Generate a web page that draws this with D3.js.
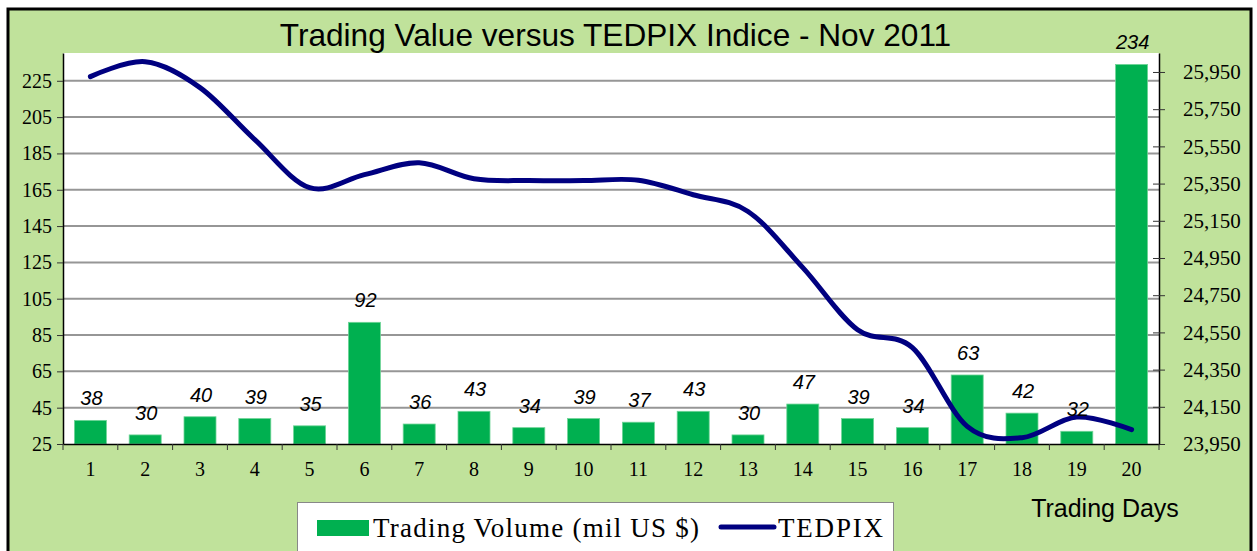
<!DOCTYPE html>
<html>
<head>
<meta charset="utf-8">
<script src="https://cdn.jsdelivr.net/npm/d3@7"></script>
<style>
  html, body { margin: 0; padding: 0; background: #ffffff; }
  svg { display: block; }
</style>
</head>
<body>
<svg id="chart" width="1257" height="551"></svg>
<script>
// ---------------- data ----------------
const days = ["1","2","3","4","5","6","7","8","9","10","11","12","13","14","15","16","17","18","19","20"];
const tradingVolume = [38, 30, 40, 39, 35, 92, 36, 43, 34, 39, 37, 43, 30, 47, 39, 34, 63, 42, 32, 234];
const tedpix = [25925, 26005, 25866, 25586, 25328, 25398, 25462, 25376, 25366, 25366,
                25368, 25290, 25200, 24898, 24564, 24468, 24045, 23984, 24095, 24027];
const leftTicks = [25, 45, 65, 85, 105, 125, 145, 165, 185, 205, 225];
const rightTicks = [23950, 24150, 24350, 24550, 24750, 24950, 25150, 25350, 25550, 25750, 25950];
const titleText = "Trading Value versus TEDPIX Indice - Nov 2011";
const xTitle = "Trading Days";
const seriesNames = ["Trading Volume (mil US $)", "TEDPIX"];

// ---------------- style ----------------
const bgGreen = "#c0e29b";
const barColor = "#00b050";
const lineColor = "#000080";
const sans = "'Liberation Sans', Arial, sans-serif";
const serif = "'Liberation Serif', 'Times New Roman', serif";

const plot = { left: 63, right: 1159, top: 53, bottom: 444 };

const svg = d3.select("#chart");

// frame
svg.append("rect").attr("x", 8).attr("y", 9).attr("width", 1243).attr("height", 560)
  .attr("fill", bgGreen).attr("stroke", "#000").attr("stroke-width", 3);

// plot background
svg.append("rect").attr("x", plot.left).attr("y", plot.top)
  .attr("width", plot.right - plot.left).attr("height", plot.bottom - plot.top)
  .attr("fill", "#ffffff");

// scales
const x = d3.scaleBand().domain(days).range([plot.left, plot.right])
  .paddingInner(0.416).paddingOuter(0.208);
const yL = d3.scaleLinear().domain([25, 240.3]).range([plot.bottom, plot.top]);
const yR = d3.scaleLinear().domain([23950, 26052]).range([plot.bottom, plot.top]);

// gridlines
svg.append("g").selectAll("line").data(leftTicks.filter(d => d > 25)).join("line")
  .attr("x1", plot.left).attr("x2", plot.right)
  .attr("y1", d => yL(d)).attr("y2", d => yL(d))
  .attr("stroke", "#969696").attr("stroke-width", 2);

// bars
svg.append("g").selectAll("rect").data(tradingVolume).join("rect")
  .attr("x", (d, i) => x(days[i]))
  .attr("y", d => yL(d))
  .attr("width", x.bandwidth())
  .attr("height", d => yL(25) - yL(d))
  .attr("fill", barColor)
  .attr("stroke", "#6fd497").attr("stroke-width", 0.8);

// line
const line = d3.line()
  .x((d, i) => x(days[i]) + x.bandwidth() / 2)
  .y(d => yR(d))
  .curve(d3.curveCardinal.tension(0));
svg.append("path").datum(tedpix).attr("d", line)
  .attr("fill", "none").attr("stroke", lineColor).attr("stroke-width", 5)
  .attr("stroke-linecap", "round").attr("stroke-linejoin", "round");

// data labels
svg.append("g").selectAll("text").data(tradingVolume).join("text")
  .attr("x", (d, i) => x(days[i]) + x.bandwidth() / 2 + 1)
  .attr("y", d => yL(d) - 15)
  .attr("text-anchor", "middle")
  .attr("font-family", sans).attr("font-style", "italic").attr("font-size", 20)
  .attr("fill", "#000")
  .text(d => d);

// left axis
const axL = svg.append("g").attr("transform", `translate(${plot.left},0)`)
  .call(d3.axisLeft(yL).tickValues(leftTicks).tickSizeInner(6).tickSizeOuter(0).tickPadding(5));
axL.select(".domain").attr("stroke", "#000").attr("stroke-width", 1.5);
axL.selectAll(".tick line").attr("stroke", "#333");
axL.selectAll("text").attr("font-family", serif).attr("font-size", 20).attr("fill", "#000");

// right axis
const axR = svg.append("g").attr("transform", `translate(${plot.right},0)`)
  .call(d3.axisRight(yR).tickValues(rightTicks).tickFormat(d3.format(","))
    .tickSizeInner(6).tickSizeOuter(0).tickPadding(18));
axR.select(".domain").attr("stroke", "#000").attr("stroke-width", 1.5);
axR.selectAll(".tick line").attr("x1", -6).attr("x2", 6).attr("stroke", "#333");
axR.selectAll("text").attr("font-family", serif).attr("font-size", 21).attr("fill", "#000");

// bottom axis
const axB = svg.append("g").attr("transform", `translate(0,${plot.bottom})`)
  .call(d3.axisBottom(x).tickSize(0).tickPadding(18));
axB.select(".domain").attr("stroke", "#000").attr("stroke-width", 1.5);
axB.selectAll("text").attr("font-family", serif).attr("font-size", 20).attr("fill", "#000");
const boundaries = days.map(d => x(d) - x.step() * x.paddingInner() / 2).concat([plot.right]);
axB.append("g").selectAll("line").data(boundaries).join("line")
  .attr("x1", d => d).attr("x2", d => d).attr("y1", 0).attr("y2", 6)
  .attr("stroke", "#333");

// title
svg.append("text").attr("x", 615.5).attr("y", 46).attr("text-anchor", "middle")
  .attr("font-family", sans).attr("font-size", 31.6).attr("fill", "#000")
  .text(titleText);

// x axis title
svg.append("text").attr("x", 1105).attr("y", 517).attr("text-anchor", "middle")
  .attr("font-family", sans).attr("font-size", 25).attr("fill", "#000")
  .text(xTitle);

// legend
const lg = svg.append("g");
lg.append("rect").attr("x", 297.5).attr("y", 502.5).attr("width", 596).attr("height", 60)
  .attr("fill", "#fff").attr("stroke", "#888").attr("stroke-width", 1);
lg.append("rect").attr("x", 317).attr("y", 520).attr("width", 52).attr("height", 16).attr("fill", barColor);
lg.append("text").attr("x", 373).attr("y", 537).attr("font-family", serif).attr("font-size", 27)
  .attr("textLength", 326).attr("fill", "#000").text(seriesNames[0]);
lg.append("line").attr("x1", 721).attr("x2", 774).attr("y1", 527).attr("y2", 527)
  .attr("stroke", lineColor).attr("stroke-width", 5).attr("stroke-linecap", "round");
lg.append("text").attr("x", 778).attr("y", 537).attr("font-family", serif).attr("font-size", 27)
  .attr("textLength", 105).attr("fill", "#000").text(seriesNames[1]);
</script>
</body>
</html>
